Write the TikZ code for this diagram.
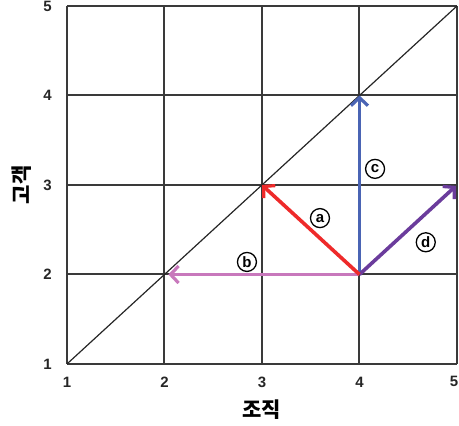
\documentclass[tikz,border=0pt]{standalone}
\usepackage{fontspec}
\setmainfont{Liberation Sans}
\newfontfamily\krfont{Noto Sans CJK KR}
\usetikzlibrary{arrows.meta, positioning}
\definecolor{gridgrey}{HTML}{3A3A3A}
\definecolor{acol}{HTML}{EE2A2A}
\definecolor{bcol}{HTML}{C878BC}
\definecolor{ccol}{HTML}{4A64B4}
\definecolor{dcol}{HTML}{6B3C9C}
\tikzset{
  vec/.style={line width=3.6pt, -{Straight Barb[length=8pt, width=17pt, line width=3.2pt]}},
  tick/.style={font=\bfseries\fontsize{15}{17}\selectfont, text=black!85},
  tag/.style={circle, draw=black, line width=1.3pt, fill=white, inner sep=0pt,
    font=\bfseries\fontsize{15}{17}\selectfont, minimum size=19pt}
}

\begin{document}
\begin{tikzpicture}[x=97.5pt, y=89.5pt]
  % frame of the picture (pixel margins of the reference)
  \useasboundingbox (0.313,0.318) rectangle (5.021,5.067);

  % grid 1..5 x 1..5
  \foreach \i in {1,...,5}{
    \draw[gridgrey, line width=2pt] (\i,1) -- (\i,5);
    \draw[gridgrey, line width=2pt] (1,\i) -- (5,\i);
    \node[tick] (yt\i) at (0.80,\i) {\i};
  }
  \foreach \i in {1,...,4}{
    \node[tick] (xt\i) at (\i,0.80) {\i};
  }
  \node[tick, anchor=east, inner sep=0.5pt] (xt5) at (5.021,0.80) {5};
  \draw[black!85, line width=1.2pt] (1,1) -- (5,5);

  % grid points used by the vectors
  \coordinate (p42) at (4,2);
  \coordinate (p33) at (3,3);
  \coordinate (p22) at (2.04,2);
  \coordinate (p44) at (4,4);
  \coordinate (p53) at (4.99,2.99);

  % vectors from (4,2)
  \draw[vec, bcol] (p42) -- (p22);
  \draw[vec, ccol] (p42) -- (p44);
  \draw[vec, dcol] (p42) -- (p53);
  \draw[vec, acol] (p42) -- (p33);

  % tags
  \node[tag] (ta) at (3.595,2.63) {a};
  \node[tag] (tb) at (2.846,2.14) {b};
  \node[tag] (tc) at (4.16,3.18) {c};
  \node[tag] (td) at (4.68,2.36) {d};

  % axis titles
  \node[font=\krfont\bfseries\fontsize{21}{24}\selectfont] (xlab) at (3,0.49) {조직};
  \node[font=\krfont\bfseries\fontsize{21}{24}\selectfont, rotate=90] (ylab) at (0.53,3) {고객};
\end{tikzpicture}
\end{document}
